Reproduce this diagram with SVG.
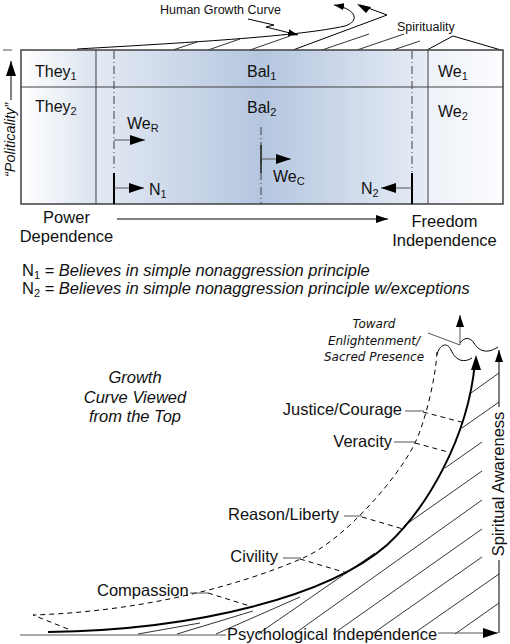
<svg xmlns="http://www.w3.org/2000/svg" width="510" height="644" viewBox="0 0 510 644">
<style>
.t{font-family:"Liberation Sans",Arial,sans-serif;font-size:16px;fill:#111}
.b{font-size:16.5px}
.i{font-style:italic}
.s{font-size:11px}
.v{font-family:"DejaVu Sans",Verdana,sans-serif;font-size:12px;font-style:italic;fill:#111}
.frame{fill:none;stroke:#404040;stroke-width:1.5}
.div{stroke:#404040;stroke-width:1}
.dd{stroke:#404040;stroke-width:1;stroke-dasharray:8 3 1 3}
.ln{stroke:#000;stroke-width:1;fill:none}
.thick{stroke:#000;stroke-width:2;fill:none}
.gl{stroke:#555;stroke-width:1;fill:none}
.dash{stroke:#000;stroke-width:1;stroke-dasharray:5 4;fill:none}
.hat{stroke:#000;stroke-width:0.8;fill:none}
</style>
<defs>
<linearGradient id="gThey" x1="0" y1="0" x2="1" y2="0"><stop offset="0" stop-color="#ffffff"/><stop offset="1" stop-color="#dbe3ef"/></linearGradient>
<linearGradient id="gBal" x1="0" y1="0" x2="1" y2="0"><stop offset="0" stop-color="#e3e9f3"/><stop offset="0.5" stop-color="#b5c6df"/><stop offset="1" stop-color="#e6ecf5"/></linearGradient>
<linearGradient id="gWe" x1="0" y1="0" x2="1" y2="0"><stop offset="0" stop-color="#eef2f8"/><stop offset="1" stop-color="#fbfcfe"/></linearGradient>
<marker id="a15" viewBox="0 0 15 10" refX="15" refY="5" markerWidth="15" markerHeight="10" markerUnits="userSpaceOnUse" orient="auto"><path d="M0,0 L15,5 L0,10 z" fill="#000"/></marker>
<marker id="a12" viewBox="0 0 12 8" refX="12" refY="4" markerWidth="12" markerHeight="8" markerUnits="userSpaceOnUse" orient="auto"><path d="M0,0 L12,4 L0,8 z" fill="#000"/></marker>
<marker id="a10" viewBox="0 0 10 7" refX="10" refY="3.5" markerWidth="10" markerHeight="7" markerUnits="userSpaceOnUse" orient="auto"><path d="M0,0 L10,3.5 L0,7 z" fill="#000"/></marker>
</defs>

<!-- top: growth curve side view -->
<g id="growth-top">
<path class="ln" d="M77,49 C200,42 300,36 345,26 C360,21 357,9 334,5" marker-end="url(#a10)"/>
<path class="ln" d="M293,50 L387,15 L360,5"/>
<path d="M357,4 L371,7 L366,13 z" fill="#000"/>
<path class="ln" d="M427,50 L453,36 L501,50"/>
<path class="hat" d="M173,50 L197,42 M208,50 L240,39 M250,50 L290,36 M322,50 L369,34 M357,50 L404,34 M393,50 L420,41"/>
<text class="t" x="160" y="14" style="font-size:12.5px">Human Growth Curve</text>
<path class="ln" d="M248,19 L274,25 L266,27 L298,35" marker-end="url(#a10)"/>
<text class="t" x="397" y="31" style="font-size:12.5px">Spirituality</text>
</g>

<!-- box -->
<g id="they">
<rect x="21" y="50" width="75" height="154" fill="url(#gThey)"/>
<text class="t" x="35" y="77">They<tspan class="s" dy="3">1</tspan></text>
<text class="t" x="35" y="112">They<tspan class="s" dy="3">2</tspan></text>
</g>
<g id="bal">
<rect x="96" y="50" width="332" height="154" fill="url(#gBal)"/>
<text class="t" x="247" y="77">Bal<tspan class="s" dy="3">1</tspan></text>
<text class="t" x="247" y="113">Bal<tspan class="s" dy="3">2</tspan></text>
</g>
<g id="we">
<rect x="428" y="50" width="75" height="154" fill="url(#gWe)"/>
<text class="t" x="438" y="77">We<tspan class="s" dy="3">1</tspan></text>
<text class="t" x="438" y="117">We<tspan class="s" dy="3">2</tspan></text>
</g>
<g id="frame">
<rect class="frame" x="21" y="50" width="482" height="154"/>
<line class="div" x1="21" y1="87" x2="503" y2="87"/>
<line class="div" x1="96" y1="50" x2="96" y2="204"/>
<line class="div" x1="428" y1="50" x2="428" y2="204"/>
</g>

<g id="connectors">
<line class="dd" x1="114" y1="51" x2="114" y2="168"/>
<line class="dd" x1="412" y1="51" x2="412" y2="172"/>
<line class="dd" x1="261" y1="127" x2="261" y2="204"/>
<line class="thick" x1="114" y1="173" x2="114" y2="204"/>
<line class="thick" x1="412" y1="173" x2="412" y2="204"/>
<line x1="261" y1="145" x2="261" y2="173" stroke="#222" stroke-width="1.5"/>
<line class="gl" x1="114" y1="140" x2="145" y2="140" marker-end="url(#a15)"/>
<line class="gl" x1="261" y1="159" x2="291" y2="159" marker-end="url(#a15)"/>
<line class="gl" x1="114" y1="188" x2="144" y2="188" marker-end="url(#a15)"/>
<line class="gl" x1="412" y1="188" x2="381" y2="188" marker-end="url(#a15)"/>
<line class="ln" x1="117" y1="219" x2="388" y2="219" marker-end="url(#a12)"/>
<line class="ln" x1="11" y1="100" x2="11" y2="61" marker-end="url(#a15)"/>
<line class="gl" x1="3" y1="50" x2="12" y2="50"/>
</g>
<g id="box-labels">
<text class="t" x="127" y="129">We<tspan class="s" dy="3">R</tspan></text>
<text class="t" x="273" y="182">We<tspan class="s" dy="3">C</tspan></text>
<text class="t" x="149" y="195">N<tspan class="s" dy="3">1</tspan></text>
<text class="t" x="361" y="194">N<tspan class="s" dy="3">2</tspan></text>
<text class="t i" transform="translate(15,140) rotate(-90)" text-anchor="middle" style="font-size:14.5px">“Politicality”</text>
<text class="t b" x="66.5" y="223" text-anchor="middle">Power</text>
<text class="t b" x="66.5" y="242" text-anchor="middle">Dependence</text>
<text class="t b" x="444.5" y="227" text-anchor="middle">Freedom</text>
<text class="t b" x="444.5" y="246" text-anchor="middle">Independence</text>
</g>
<g id="legend">
<text class="t b" x="22" y="276">N<tspan class="s" dy="3">1</tspan><tspan dy="-3"> = </tspan><tspan class="i">Believes in simple nonaggression principle</tspan></text>
<text class="t b" x="22" y="294">N<tspan class="s" dy="3">2</tspan><tspan dy="-3"> = </tspan><tspan class="i">Believes in simple nonaggression principle w/exceptions</tspan></text>
</g>

<!-- bottom diagram -->
<g id="title">
<text class="t b i" x="135" y="383" text-anchor="middle">Growth</text>
<text class="t b i" x="135" y="403" text-anchor="middle">Curve Viewed</text>
<text class="t b i" x="135" y="422" text-anchor="middle">from the Top</text>
</g>
<g id="hatch">
<path class="hat" d="M138,634 L200,623 M177,634 L253,611 M216,634 L300,597 M258,634 L375,553 M294,634 L482,500 M333,634 L482,529 M372,634 L482,557 M413,634 L499,574 M455,634 L499,603 M404,526 L482,471 M445,468 L482,442 M462,428 L499,402 M471,393 L499,373"/>
</g>
<g id="curves">
<path class="dash" d="M68,629 L33,615 C130,612 230,590 303,558 C345,540 400,475 415,443 C426,420 436,375 437,352"/>
<path class="thick" d="M48,632 C200,630 330,595 387,545 C425,510 468,440 475,362"/>
<path d="M476,355 L481,370 L471,370 z" fill="#000"/>
<path class="dash" d="M423,412 L465,423 M415,443 L448,452 M362,517 L403,529 M300,559 L347,573 M208,593 L253,607"/>
<path class="ln" d="M437,355 C439,345 447,341 451,350 C455,359 462,364 472,358"/>
<path class="ln" d="M460,343 C464,337 470,337 474,343 C478,350 486,355 498,347"/>
</g>
<g id="labels">
<text class="t b" x="402" y="415" text-anchor="end">Justice/Courage</text>
<text class="t b" x="392" y="447" text-anchor="end">Veracity</text>
<text class="t b" x="339" y="520" text-anchor="end">Reason/Liberty</text>
<text class="t b" x="278" y="562" text-anchor="end">Civility</text>
<text class="t b" x="97" y="596">Compassion</text>
<text class="t b" x="227" y="640">Psychological Independence</text>
<text class="t b" transform="translate(504,484) rotate(-90)" text-anchor="middle">Spiritual Awareness</text>
<text class="v" x="374" y="328" text-anchor="middle">Toward</text>
<text class="v" x="374" y="345" text-anchor="middle">Enlightenment/</text>
<text class="v" x="374" y="361" text-anchor="middle">Sacred Presence</text>
</g>
<g id="leaders">
<path class="gl" d="M405,411 L424,411 M394,442 L415,442 M344,516 L362,516 M283,558 L301,558 M190,593 L208,593 M20,635 L226,635 M428,333 L460,345"/>
<line class="gl" x1="438" y1="633" x2="498" y2="633" marker-end="url(#a15)"/>
<line class="ln" x1="499" y1="633" x2="499" y2="560"/>
<line class="ln" x1="499" y1="407" x2="499" y2="350" marker-end="url(#a12)"/>
<line class="gl" x1="460" y1="345" x2="460" y2="315" marker-end="url(#a12)"/>
</g>
</svg>
